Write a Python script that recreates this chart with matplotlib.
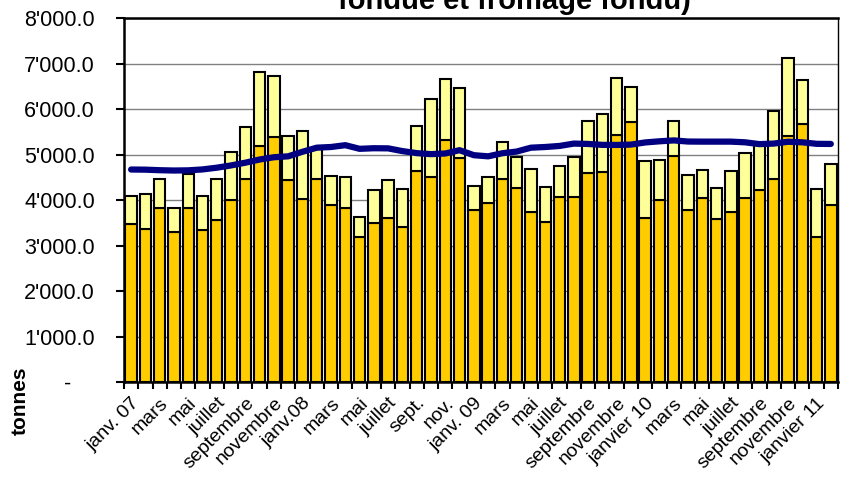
import numpy as np
from matplotlib import pyplot as plt
from matplotlib.ticker import FuncFormatter, MultipleLocator

plt.rcParams['font.family'] = ['Liberation Sans', 'DejaVu Sans']

## données (tonnes), janv. 07 -> févr. 11
partie_bas = [3470, 3355, 3820, 3300, 3820, 3335, 3560, 3995, 4465, 5190,
              5390, 4435, 4020, 4465, 3880, 3820, 3180, 3500, 3600, 3415,
              4640, 4505, 5320, 4920, 3770, 3940, 4455, 4255, 3730, 3515,
              4065, 4065, 4595, 4610, 5430, 5705, 3615, 4000, 4970, 3790,
              4035, 3590, 3745, 4035, 4210, 4465, 5415, 5680, 3190, 3890]
total = [4090, 4130, 4470, 3825, 4580, 4090, 4465, 5050, 5595, 6820,
         6715, 5405, 5515, 5130, 4535, 4495, 3625, 4230, 4435, 4245,
         5630, 6210, 6660, 6455, 4305, 4505, 5285, 4940, 4690, 4295,
         4745, 4940, 5730, 5900, 6675, 6485, 4855, 4890, 5740, 4550,
         4665, 4270, 4640, 5030, 5230, 5965, 7130, 6645, 4240, 4795]
moyenne = [4670, 4667, 4655, 4648, 4652, 4672, 4710, 4760, 4820, 4890,
           4940, 4960, 5060, 5150, 5165, 5205, 5125, 5138, 5135, 5075,
           5030, 5008, 5022, 5095, 4985, 4960, 5028, 5065, 5150, 5165,
           5188, 5240, 5232, 5212, 5210, 5218, 5265, 5290, 5310, 5285,
           5283, 5283, 5283, 5268, 5228, 5240, 5280, 5268, 5235, 5232]
etiquettes = ['janv. 07', 'mars', 'mai', 'juillet', 'septembre', 'novembre',
              'janv.08', 'mars', 'mai', 'juillet', 'sept.', 'nov.',
              'janv. 09', 'mars', 'mai', 'juillet', 'septembre', 'novembre',
              'janvier 10', 'mars', 'mai', 'juillet', 'septembre', 'novembre',
              'janvier 11']

haut = [t - b for t, b in zip(total, partie_bas)]
x = np.arange(len(total))

fig = plt.figure(figsize=(8.41, 4.79), dpi=100)
ax = fig.add_axes([0.1474, 0.2025, 0.8490, 0.7599])

ax.bar(x, partie_bas, width=0.8, color='#FFCC00', edgecolor='black', linewidth=1.5, zorder=2)
ax.bar(x, haut, bottom=partie_bas, width=0.8, color='#FFFF99', edgecolor='black', linewidth=1.5, zorder=2)
ax.plot(x, moyenne, color='#000080', linewidth=4.5, solid_capstyle='round', zorder=3)

ax.set_xlim(-0.5, len(total) - 0.5)
ax.set_ylim(0, 8000)
ax.yaxis.set_major_locator(MultipleLocator(1000))
ax.yaxis.set_major_formatter(FuncFormatter(
    lambda v, p: '-    ' if v == 0 else '{:,.1f}'.format(v).replace(',', "'")))
ax.grid(axis='y', color='#808080', linewidth=1, zorder=0)
ax.set_axisbelow(True)

## étiquettes tous les deux mois, petits traits entre les barres
ax.set_xticks(x[::2])
ax.set_xticklabels(etiquettes, rotation=45, ha='right', rotation_mode='anchor', fontsize=14)
ax.set_xticks(np.arange(-0.5, len(total), 1), minor=True)
ax.tick_params(axis='x', which='major', length=0, pad=9)
ax.tick_params(axis='x', which='minor', length=5, width=1.5, direction='out')
ax.tick_params(axis='y', labelsize=15.5, length=6, width=1.5, pad=15)

for s in ['left', 'bottom', 'top']:
    ax.spines[s].set_linewidth(1.8)
ax.spines['right'].set_linewidth(1)

fig.text(0.024, 0.163, 'tonnes', rotation=90, fontsize=15, fontweight='bold', ha='center', va='center')
fig.text(0.612, 0.981, 'fondue et fromage fondu)', fontsize=21, fontweight='bold', ha='center', va='baseline')

plt.savefig('out.png', dpi=100)
